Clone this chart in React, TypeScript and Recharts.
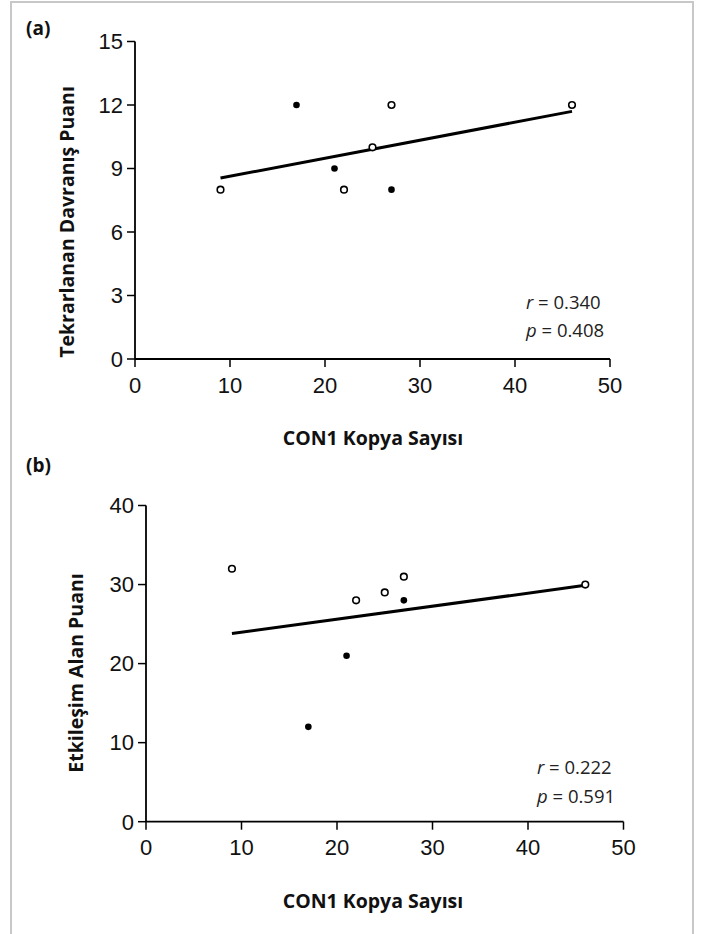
import { ScatterChart, Scatter, XAxis, YAxis } from "recharts";

const X_TICKS = [0, 10, 20, 30, 40, 50];
const A_Y_TICKS = [0, 3, 6, 9, 12, 15];
const B_Y_TICKS = [0, 10, 20, 30, 40];

// panel (a): Tekrarlanan Davranış Puanı
const A_OPEN = [
  { x: 9, y: 8 }, { x: 22, y: 8 }, { x: 25, y: 10 }, { x: 27, y: 12 }, { x: 46, y: 12 },
];
const A_FILLED = [{ x: 17, y: 12 }, { x: 21, y: 9 }, { x: 27, y: 8 }];
const A_FIT = [{ x: 9, y: 8.55 }, { x: 46, y: 11.7 }];

// panel (b): Etkileşim Alan Puanı
const B_OPEN = [
  { x: 9, y: 32 }, { x: 22, y: 28 }, { x: 25, y: 29 }, { x: 27, y: 31 }, { x: 46, y: 30 },
];
const B_FILLED = [{ x: 17, y: 12 }, { x: 21, y: 21 }, { x: 27, y: 28 }];
const B_FIT = [{ x: 9, y: 23.8 }, { x: 46, y: 29.9 }];

const TICK_FONT = "'Liberation Sans', Arial, sans-serif";
const LABEL_FONT = "'Open Sans', 'Noto Sans', sans-serif";

const OpenDot = (p: any) => (
  <circle cx={p.cx} cy={p.cy} r={3.3} fill="#fff" stroke="#000" strokeWidth={1.6} />
);
const FilledDot = (p: any) => <circle cx={p.cx} cy={p.cy} r={3.3} fill="#000" />;
const NoDot = () => <g />;

function Panel({ top, height, margin, yTicks, yMax, open, filled, fit }: any) {
  return (
    <div style={{ position: "absolute", left: 0, top, width: 705, height }}>
      <ScatterChart width={705} height={height} margin={margin}>
        <XAxis
          type="number"
          dataKey="x"
          domain={[0, 50]}
          ticks={X_TICKS}
          interval={0}
          height={40}
          tickSize={8}
          tickMargin={10}
          axisLine={{ stroke: "#000", strokeWidth: 1.8 }}
          tickLine={{ stroke: "#000", strokeWidth: 1.5 }}
          tick={{ fill: "#111", fontSize: 22, fontFamily: TICK_FONT }}
        />
        <YAxis
          type="number"
          dataKey="y"
          domain={[0, yMax]}
          ticks={yTicks}
          interval={0}
          width={60}
          tickSize={8}
          tickMargin={4}
          axisLine={{ stroke: "#000", strokeWidth: 1.8 }}
          tickLine={{ stroke: "#000", strokeWidth: 1.5 }}
          tick={{ fill: "#111", fontSize: 22, fontFamily: TICK_FONT }}
        />
        <Scatter
          data={fit}
          line={{ stroke: "#000", strokeWidth: 3 }}
          shape={NoDot}
          isAnimationActive={false}
        />
        <Scatter data={open} shape={OpenDot} isAnimationActive={false} />
        <Scatter data={filled} shape={FilledDot} isAnimationActive={false} />
      </ScatterChart>
    </div>
  );
}

const boldLabel: any = {
  position: "absolute",
  fontFamily: LABEL_FONT,
  fontWeight: 700,
  fontSize: 19.5,
  color: "#111",
  whiteSpace: "nowrap",
};

const yLabel = (x: number, y: number, text: string) => (
  <div style={{ ...boldLabel, left: x, top: y, transform: "translate(-50%, -50%) rotate(-90deg)" }}>
    {text}
  </div>
);

const xLabel = (x: number, y: number, text: string) => (
  <div style={{ ...boldLabel, left: x, top: y, transform: "translate(-50%, -50%)" }}>{text}</div>
);

const stats = (x: number, y: number, r: string, p: string, lh: number) => (
  <div
    style={{
      position: "absolute", left: x, top: y,
      fontFamily: LABEL_FONT, fontSize: 18.5, color: "#222",
      lineHeight: `${lh}px`, whiteSpace: "nowrap",
    }}
  >
    <div><i>r</i> = {r}</div>
    <div><i>p</i> = {p}</div>
  </div>
);

export default function App() {
  return (
    <div style={{ position: "absolute", left: 0, top: 0, width: 705, height: 934, overflow: "hidden", background: "#fff" }}>
      <div style={{ position: "absolute", left: 10, top: 1, width: 680, height: 1000, border: "2px solid #c8c8c8" }} />

      <div style={{ ...boldLabel, fontSize: 19, left: 26, top: 28, transform: "translateY(-50%)" }}>(a)</div>
      <Panel
        top={0}
        height={470}
        margin={{ top: 41.5, right: 95, bottom: 71, left: 75 }}
        yTicks={A_Y_TICKS}
        yMax={15}
        open={A_OPEN}
        filled={A_FILLED}
        fit={A_FIT}
      />
      {yLabel(65.5, 222, "Tekrarlanan Davranış Puanı")}
      {xLabel(373, 437, "CON1 Kopya Sayısı")}
      {stats(526, 288, "0.340", "0.408", 28)}

      <div style={{ ...boldLabel, fontSize: 19, left: 26, top: 465, transform: "translateY(-50%)" }}>(b)</div>
      <Panel
        top={460}
        height={474}
        margin={{ top: 45.5, right: 81.5, bottom: 72.3, left: 86 }}
        yTicks={B_Y_TICKS}
        yMax={40}
        open={B_OPEN}
        filled={B_FILLED}
        fit={B_FIT}
      />
      {yLabel(75, 673, "Etkileşim Alan Puanı")}
      {xLabel(373, 900, "CON1 Kopya Sayısı")}
      {stats(537, 752, "0.222", "0.591", 29)}
    </div>
  );
}
